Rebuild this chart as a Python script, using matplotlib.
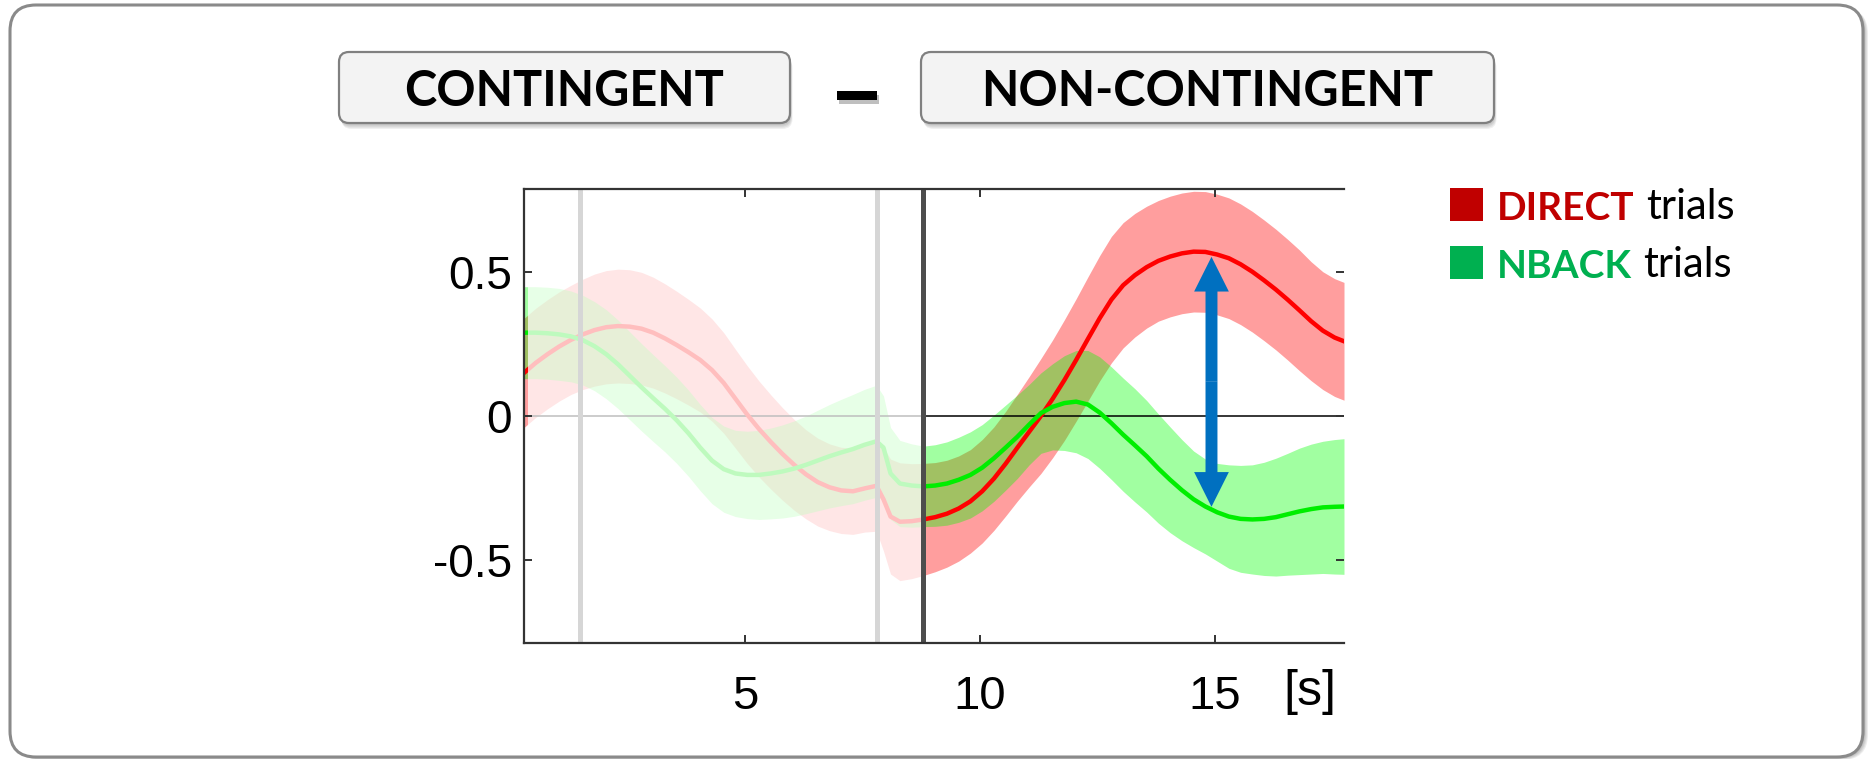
import matplotlib
matplotlib.use("Agg")
import matplotlib.pyplot as plt
import matplotlib.patheffects as pe
from matplotlib.patches import FancyBboxPatch, Rectangle
from matplotlib.transforms import IdentityTransform

# time course (seconds), mean and SEM per condition
time_s = [0.30, 0.55, 0.80, 1.05, 1.30, 1.55, 1.80, 2.05, 2.30, 2.55, 2.80, 3.05,
          3.30, 3.55, 3.80, 4.05, 4.30, 4.55, 4.80, 5.05, 5.30, 5.55, 5.80, 6.05,
          6.30, 6.55, 6.80, 7.05, 7.30, 7.55, 7.80, 7.95, 8.10, 8.30, 8.55, 8.80,
          9.05, 9.30, 9.55, 9.80, 10.05, 10.30, 10.55, 10.80, 11.05, 11.30, 11.55,
          11.80, 12.05, 12.30, 12.55, 12.80, 13.05, 13.30, 13.55, 13.80, 14.05,
          14.30, 14.55, 14.80, 15.05, 15.30, 15.55, 15.80, 16.05, 16.30, 16.55,
          16.80, 17.05, 17.30, 17.55, 17.75]
direct_mean = [0.150, 0.185, 0.215, 0.242, 0.265, 0.284, 0.299, 0.309, 0.313, 0.311,
               0.304, 0.290, 0.270, 0.247, 0.222, 0.195, 0.160, 0.115, 0.060, 0.005,
               -0.045, -0.090, -0.132, -0.170, -0.203, -0.230, -0.248, -0.259, -0.262,
               -0.252, -0.243, -0.290, -0.350, -0.368, -0.366, -0.360,
               -0.352, -0.340, -0.322, -0.297, -0.262, -0.218, -0.166, -0.110, -0.055,
               0.000, 0.060, 0.125, 0.195, 0.268, 0.340, 0.405, 0.455, 0.490, 0.518,
               0.540, 0.555, 0.566, 0.572, 0.571, 0.562, 0.549, 0.528, 0.502, 0.472,
               0.440, 0.405, 0.368, 0.330, 0.297, 0.273, 0.260]
direct_sem = [0.19, 0.19, 0.19, 0.19, 0.19, 0.192, 0.195, 0.197, 0.198,
              0.198, 0.196, 0.193, 0.19, 0.187, 0.184, 0.181, 0.178, 0.175, 0.172,
              0.17, 0.167, 0.164, 0.161, 0.158, 0.155, 0.153, 0.151, 0.15, 0.15, 0.152, 0.158,
              0.18, 0.20, 0.205, 0.20, 0.195,
              0.19, 0.186, 0.183, 0.18, 0.18, 0.18, 0.182, 0.186, 0.192,
              0.20, 0.205, 0.21, 0.213, 0.216, 0.218, 0.22, 0.218, 0.215,
              0.212, 0.21, 0.21, 0.21, 0.21, 0.21, 0.21, 0.21, 0.21, 0.21, 0.21, 0.21,
              0.21, 0.21, 0.207, 0.205, 0.205, 0.205]
nback_mean = [0.290, 0.290, 0.288, 0.284, 0.277, 0.264, 0.243, 0.215, 0.180, 0.140,
              0.100, 0.062, 0.025, -0.015, -0.060, -0.110, -0.155, -0.185, -0.200,
              -0.205, -0.205, -0.200, -0.193, -0.183, -0.170, -0.155, -0.140, -0.127,
              -0.115, -0.100, -0.088, -0.110, -0.200, -0.235, -0.242, -0.245,
              -0.242, -0.235, -0.222, -0.205, -0.180, -0.147, -0.110, -0.072, -0.030,
              0.010, 0.032, 0.045, 0.050, 0.040, 0.012, -0.025, -0.065, -0.102, -0.140,
              -0.183, -0.222, -0.258, -0.290, -0.315, -0.335, -0.350, -0.358, -0.360,
              -0.358, -0.352, -0.342, -0.332, -0.324, -0.318, -0.316, -0.315]
nback_sem = [0.16, 0.16, 0.16, 0.16, 0.158, 0.156, 0.155, 0.155, 0.154,
             0.153, 0.152, 0.151, 0.15, 0.15, 0.15, 0.15, 0.15, 0.15, 0.15,
             0.152, 0.155, 0.158, 0.162, 0.166, 0.17, 0.175, 0.18, 0.185, 0.19, 0.193, 0.195,
             0.18, 0.16, 0.15, 0.145, 0.14,
             0.142, 0.145, 0.148, 0.15, 0.15, 0.15, 0.148, 0.145, 0.14,
             0.14, 0.15, 0.165, 0.178, 0.188, 0.194, 0.196, 0.197, 0.197,
             0.194, 0.19, 0.184, 0.176, 0.168, 0.165, 0.17, 0.18, 0.186, 0.19, 0.197,
             0.205, 0.212, 0.22, 0.226, 0.23, 0.234, 0.236]

cue_times = [1.5, 7.82]
onset_time = 8.8
arrow_time = 14.93
arrow_ends = (0.554, -0.316)

x_ticks = [5, 10, 15]
x_tick_labels = ["5", "10", "15"]
y_ticks = [-0.5, 0, 0.5]
y_tick_labels = ["-0.5", "0", "0.5"]

W, H = 1869, 759
TITLE_FONT = ["Lato", "DejaVu Sans"]
plt.rcParams["font.family"] = ["Liberation Sans", "DejaVu Sans"]

fig = plt.figure(figsize=(W / 100, H / 100), dpi=100)
fig.patch.set_facecolor("white")


def px_box(x0, top, x1, bottom, radius, dx=0, dy=0, **kw):
    # pixel box given in image coordinates (y grows downwards)
    patch = FancyBboxPatch((x0 + dx, H - bottom + dy), x1 - x0, bottom - top,
                           boxstyle=f"round,pad=0,rounding_size={radius}",
                           transform=IdentityTransform(), **kw)
    fig.add_artist(patch)
    return patch


# outer frame with a soft shadow on the right (kept below the axes)
for i in range(1, 6):
    px_box(10, 5, 1863, 757, 26, dx=i, dy=-i * 0.6, facecolor="black",
           edgecolor="none", alpha=0.07, zorder=-3)
px_box(10, 5, 1863, 757, 26, facecolor="white", edgecolor="#8A8A8A", lw=2.2,
       zorder=-2)

# title boxes
title_boxes = [(339, 790, "CONTINGENT"), (921, 1494, "NON-CONTINGENT")]
for x0, x1, label in title_boxes:
    for i in range(1, 6):
        px_box(x0, 52, x1, 123, 10, dx=i * 0.5, dy=-i * 1.2, facecolor="black",
               edgecolor="none", alpha=0.06)
    px_box(x0, 52, x1, 123, 10, facecolor="#F3F3F3", edgecolor="#808080", lw=1.6)
    fig.text((x0 + x1) / 2 / W, 1 - 106 / H, label, ha="center", va="baseline",
             fontsize=35, fontweight="bold", family=TITLE_FONT, color="black")

fig.text(857 / W, 1 - 97 / H, "\u2013", ha="center", va="center", fontsize=72,
         fontweight="bold", family=TITLE_FONT, color="black",
         path_effects=[pe.withSimplePatchShadow(offset=(1.5, -3), alpha=0.25)])

# main axes
ax = fig.add_axes([524 / W, 1 - 643 / H, 820 / W, 454 / H])
ax.set_facecolor("white")

ax.fill_between(time_s, [m - s for m, s in zip(direct_mean, direct_sem)],
                [m + s for m, s in zip(direct_mean, direct_sem)],
                color="#FF0000", alpha=0.38, lw=0, zorder=1.0)
ax.fill_between(time_s, [m - s for m, s in zip(nback_mean, nback_sem)],
                [m + s for m, s in zip(nback_mean, nback_sem)],
                color="#00FF00", alpha=0.37, lw=0, zorder=1.1)
ax.axhline(0, color="black", lw=1.1, zorder=1.2)
ax.plot(time_s, direct_mean, color="#FF0000", lw=3.2, zorder=1.3)
ax.plot(time_s, nback_mean, color="#00EE00", lw=3.2, zorder=1.3)

# fade everything before stimulus onset
ax.axvspan(0.38, onset_time, color="white", alpha=0.75, lw=0, zorder=1.5)
for t in cue_times:
    ax.axvline(t, color="#D6D6D6", lw=3.6, zorder=2.0)
ax.axvline(onset_time, color="#4D4D4D", lw=3.6, zorder=2.1)

mid = sum(arrow_ends) / 2
for end in arrow_ends:
    ax.annotate("", xy=(arrow_time, end), xytext=(arrow_time, mid),
                arrowprops=dict(arrowstyle="simple,head_length=2.5,head_width=2.5,tail_width=0.86",
                                mutation_scale=10, color="#0070C0", lw=0,
                                shrinkA=0, shrinkB=0),
                zorder=2.2)

ax.set_xlim(0.3, 17.75)
ax.set_ylim(-0.79, 0.79)
ax.set_xticks(x_ticks, x_tick_labels)
ax.set_yticks(y_ticks, y_tick_labels)
ax.tick_params(axis="both", direction="in", length=6, width=1.4, color="#333333",
               top=True, right=True)
ax.tick_params(axis="x", labelsize=34, pad=23)
ax.tick_params(axis="y", labelsize=33, pad=8.5)
for side in ("left", "top", "bottom"):
    ax.spines[side].set_color("#333333")
    ax.spines[side].set_linewidth(1.6)
ax.spines["right"].set_visible(False)

fig.text(1310 / W, 1 - 692 / H, "[s]", ha="center", va="center", fontsize=36)

# legend
legend_items = [("DIRECT", "#C00000", 188, 221, 220), ("NBACK", "#00B050", 246, 279, 278)]
for word, colour, top, bottom, baseline in legend_items:
    fig.add_artist(Rectangle((1450, H - bottom), 33, bottom - top, facecolor=colour,
                             edgecolor="none", transform=IdentityTransform()))
    t1 = fig.text(1497 / W, 1 - baseline / H, word, ha="left", va="baseline",
                  fontsize=28, fontweight="bold", color=colour, family=TITLE_FONT)
    fig.add_artist(matplotlib.text.Annotation(
        "trials", xy=(1, 0), xycoords=t1, xytext=(8, 0),
        textcoords="offset points", ha="left", va="bottom",
        fontsize=30, color="black", family=TITLE_FONT, annotation_clip=False))

fig.savefig("out.png", dpi=100, facecolor="white")
